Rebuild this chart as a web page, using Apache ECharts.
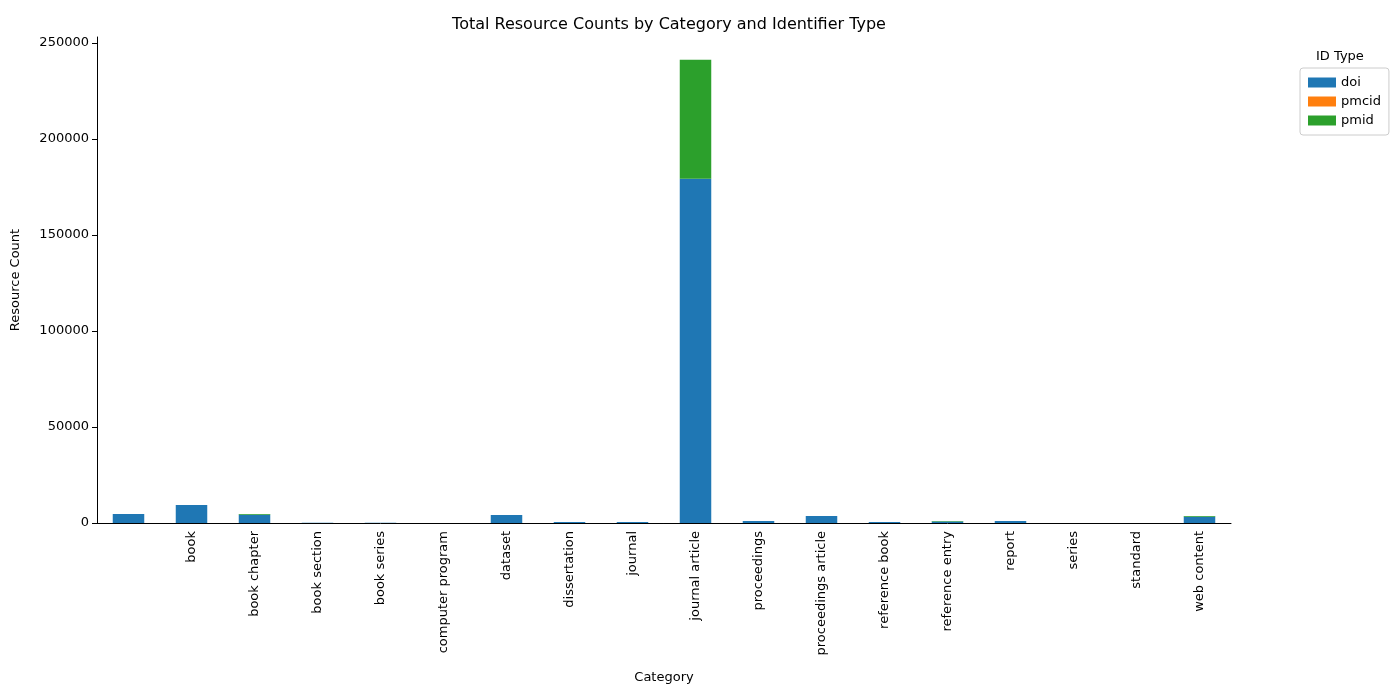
<!DOCTYPE html>
<html><head><meta charset="utf-8">
<script src="https://cdn.jsdelivr.net/npm/echarts@6/dist/echarts.min.js"></script>
<style>html,body{margin:0;padding:0;background:#fff}#c{width:1400px;height:700px}</style>
</head><body><div id="c"></div>
<script>
const categories = ['', 'book', 'book chapter', 'book section', 'book series', 'computer program', 'dataset', 'dissertation', 'journal', 'journal article', 'proceedings', 'proceedings article', 'reference book', 'reference entry', 'report', 'series', 'standard', 'web content'];
const doi   = [4700, 9400, 4300, 100, 100, 50, 4100, 500, 500, 179200, 1000, 3600, 500, 800, 1000, 50, 50, 3200];
const pmcid = [0, 0, 0, 0, 0, 0, 0, 0, 0, 0, 0, 0, 0, 0, 0, 0, 0, 0];
const pmid  = [0, 0, 400, 0, 0, 0, 0, 0, 0, 62000, 0, 0, 0, 300, 0, 0, 0, 500];
const yTicks = [0, 50000, 100000, 150000, 200000, 250000];

const chart = echarts.init(document.getElementById('c'));
const F = 'DejaVu Sans';
const mk = (name, data, color) => ({name, type:'bar', stack:'s', data, barWidth:'50%', itemStyle:{color}});
chart.setOption({
  animation:false,
  textStyle:{fontFamily:F},
  title:{text:'Total Resource Counts by Category and Identifier Type', left:664, top:12, textAlign:'center',
    textStyle:{fontFamily:F, fontSize:16, fontWeight:'normal', color:'#000'}},
  legend:{orient:'vertical', left:1300, top:68, itemWidth:28, itemHeight:10, itemGap:6,
    textStyle:{fontFamily:F, fontSize:13, color:'#000'}, icon:'rect',
    borderColor:'#ccc', borderWidth:1, borderRadius:3, padding:[8,8,8,8]},
  graphic:[{type:'text', left:1316, top:50, style:{text:'ID Type', font:'13px DejaVu Sans', fill:'#000'}}],
  grid:{left:97, right:169, top:37, bottom:177},
  xAxis:{type:'category', data:categories, name:'Category', nameLocation:'middle', nameGap:148,
    nameTextStyle:{fontFamily:F, fontSize:13, color:'#000'},
    axisLine:{lineStyle:{color:'#000'}}, axisTick:{alignWithLabel:true, lineStyle:{color:'#000'}},
    axisLabel:{rotate:90, interval:0, color:'#000', fontSize:13, fontFamily:F}},
  yAxis:{type:'value', min:0, max:253000, interval:50000, name:'Resource Count', nameLocation:'middle', nameGap:75,
    nameTextStyle:{fontFamily:F, fontSize:13, color:'#000'},
    axisLine:{show:true, lineStyle:{color:'#000'}}, axisTick:{show:true, lineStyle:{color:'#000'}},
    splitLine:{show:false},
    axisLabel:{color:'#000', fontSize:13, fontFamily:F, showMaxLabel:false,
      formatter:v => yTicks.includes(v) ? String(v) : ''}},
  series:[mk('doi', doi, '#1f77b4'), mk('pmcid', pmcid, '#ff7f0e'), mk('pmid', pmid, '#2ca02c')]
});
</script></body></html>
